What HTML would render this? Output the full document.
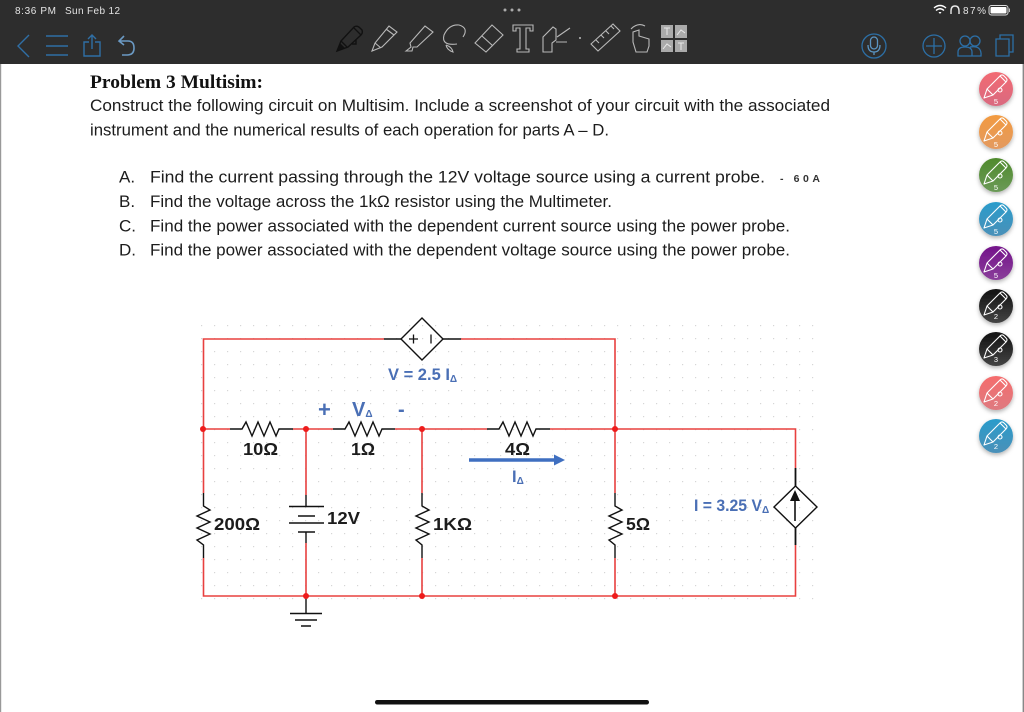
<!DOCTYPE html>
<html><head><meta charset="utf-8"><style>
html,body{margin:0;padding:0;background:#fff}
svg{display:block}
.t{font-family:"Liberation Sans",sans-serif;font-size:17px;fill:#1c1c1c}
.b{font-family:"Liberation Sans",sans-serif;font-weight:bold;fill:#1c1c1c;font-size:17.500px}
.l{font-family:"Liberation Sans",sans-serif;font-weight:bold;fill:#4a6fb5;font-size:16.500px}
.s{font-size:10px}
.n{font-family:"Liberation Sans",sans-serif;font-size:7.500px;fill:#fff;text-anchor:middle}
</style></head><body>
<svg width="1024" height="712" viewBox="0 0 1024 712" xmlns="http://www.w3.org/2000/svg">
<defs>
<pattern id="d" width="13" height="13" patternUnits="userSpaceOnUse" x="201" y="325"><rect x="0" y="0" width="1.2" height="1.2" fill="#d6d6d6"/></pattern>
<g id="pen" fill="none" stroke="#fff" stroke-width="1.1" stroke-linejoin="round"><path d="M-12 11 L-9 2 L4 -11 Q6 -13 8 -11 L10 -9 Q12 -7 10 -5 L-3 8 Z"/><path d="M-9 2 L-3 8 M4 -11 L10 -5"/><circle cx="4" cy="3" r="2"/></g>
<filter id="sh" x="-30%" y="-30%" width="160%" height="170%"><feDropShadow dx="0" dy="2" stdDeviation="2" flood-color="#000" flood-opacity=".3"/></filter>
<linearGradient id="g1" x1="0" y1="0" x2="0" y2="1"><stop offset="0" stop-color="#f26a72"/><stop offset="1" stop-color="#d96b80"/></linearGradient>
<linearGradient id="g2" x1="0" y1="0" x2="0" y2="1"><stop offset="0" stop-color="#f29a40"/><stop offset="1" stop-color="#e39a60"/></linearGradient>
<linearGradient id="g3" x1="0" y1="0" x2="0" y2="1"><stop offset="0" stop-color="#4f8a2c"/><stop offset="1" stop-color="#6b9a58"/></linearGradient>
<linearGradient id="g4" x1="0" y1="0" x2="0" y2="1"><stop offset="0" stop-color="#2a9ccb"/><stop offset="1" stop-color="#4a90b8"/></linearGradient>
<linearGradient id="g5" x1="0" y1="0" x2="0" y2="1"><stop offset="0" stop-color="#73128a"/><stop offset="1" stop-color="#8a3f9a"/></linearGradient>
<linearGradient id="g6" x1="0" y1="0" x2="0" y2="1"><stop offset="0" stop-color="#111"/><stop offset="1" stop-color="#444"/></linearGradient>
<linearGradient id="g7" x1="0" y1="0" x2="0" y2="1"><stop offset="0" stop-color="#f56c6c"/><stop offset="1" stop-color="#de7a80"/></linearGradient>
</defs>

<!-- page edges -->
<rect x="0" y="64" width="1.2" height="648" fill="#999"/>
<rect x="1022.6" y="64" width="1.4" height="648" fill="#888"/>

<!-- top bar -->
<rect width="1024" height="64" fill="#2d2d2d"/>
<text x="15" y="14" font-family="Liberation Sans,sans-serif" font-size="10" fill="#e4e4e4" textLength="41" lengthAdjust="spacing">8:36 PM</text>
<text x="65" y="14" font-family="Liberation Sans,sans-serif" font-size="10" fill="#e4e4e4" textLength="55" lengthAdjust="spacing">Sun Feb 12</text>
<g fill="#aaa"><circle cx="505" cy="10" r="1.5"/><circle cx="512" cy="10" r="1.5"/><circle cx="519" cy="10" r="1.5"/></g>

<g fill="none" stroke="#2f6fa5" stroke-width="1.4">
<path d="M29 35 L18 46 L29 57"/>
<path d="M46 36H68M46 46H68M46 55H68"/>
<path d="M89 42H84V56H100V42H95M92 49V35M88 39L92 35L96 39"/>
</g>
<path d="M124 36 L119 41 L124 45 M119 41H128Q134 41 134 48Q134 55 127 55H122" fill="none" stroke="#6b9ac4" stroke-width="1.6"/>

<!-- tools -->
<g fill="none" stroke="#111" stroke-width="1.4"><path d="M337 51 L341 41 L354 27 Q357 25 360 28 L362 30 Q363 33 361 35 L348 47 Z" /><path d="M341 41L347 47M354 28L361 35M356 40 V44 H352"/></g>
<path d="M337 51 L340 43 L345 48Z" fill="#111"/>
<g fill="none" stroke="#b8b8b8" stroke-width="1.1">
<path d="M372 51 L375 43 L389 26 L397 32 L382 47 Z M375 43 L381 48 M386 29 L394 35"/>
<path d="M406 51 L411 47 L410 43 L425 26 L433 32 L417 47 L413 47 L412 51 Z"/>
<path d="M457 44 Q441 46 444 35 Q449 24 459 25 Q469 28 463 37"/><path d="M446 45 Q452 47 453 52 Q447 50 446 45"/>
<path d="M475 43 L492 25 L503 35 L486 52 Z M482 36 L493 46"/>
<path d="M513 25H533V31H530V28H526V49H529V52H517V49H520V28H516V31H513Z"/>
<path d="M543 52V37L553 27L556 29V40L552 43V52Z M557 37L570 28M556 42L567 42"/>
<path d="M591 44 L613 24 L620 31 L598 51 Z M596 40L599 43M601 35L604 38M606 31L609 34M611 26L614 29"/>
<path d="M631 29Q638 22 645 26 M633 32V42L636 52H647L649 46V39L639 36V30Z"/>
</g>
<circle cx="580" cy="38" r="1" fill="#bbb"/>
<g fill="#aaa"><rect x="661" y="25" width="12" height="13"/><rect x="675" y="25" width="12" height="13"/><rect x="661" y="40" width="12" height="12"/><rect x="675" y="40" width="12" height="12"/></g>
<g fill="none" stroke="#e8e8e8" stroke-width="1"><path d="M664 28H670M667 28V35M678 43H684M681 43V50M677 35L681 30L685 33M663 49L667 44L671 47"/></g>

<!-- right icons -->
<g fill="none" stroke="#2c6fa6" stroke-width="1.3">
<circle cx="874" cy="46" r="12"/>
<rect x="870.5" y="37" width="7" height="12" rx="3.5" stroke="#5a94c2"/><path d="M868 45Q868 52 874 52Q880 52 880 45M874 52V55" stroke="#5a94c2"/>
<circle cx="934" cy="46" r="11"/><path d="M926 46H942M934 38V54"/>
<circle cx="965" cy="41" r="5"/><circle cx="975" cy="41" r="5"/><path d="M958 56V52Q958 47 965 47Q972 47 972 52V56ZM970 47Q982 45 981 56H972"/>
<path d="M996 39H1009V56H996ZM1000 39V35H1013V52H1009"/>
</g>

<!-- status right -->
<path d="M934 8Q940 3 946 8M936 10.5Q940 7 944 10.5" fill="none" stroke="#fff" stroke-width="1.4"/><path d="M938.5 12L940 14L941.5 12Z" fill="#fff"/>
<path d="M951 14V11Q951 6 955 6Q959 6 959 11V14" fill="none" stroke="#e8e8e8" stroke-width="1.4"/>
<text x="963" y="14" font-family="Liberation Sans,sans-serif" font-size="10" fill="#e4e4e4" textLength="23" lengthAdjust="spacing">87%</text>
<rect x="989" y="5.5" width="19" height="9.5" rx="2.5" fill="none" stroke="#ddd"/><rect x="990.5" y="7" width="16" height="6.5" rx="1" fill="#fff"/><rect x="1009" y="8.5" width="1" height="3.5" fill="#bbb"/>

<!-- text -->
<text x="90" y="88" font-family="Liberation Serif,serif" font-weight="bold" font-size="19" fill="#111" textLength="173" lengthAdjust="spacingAndGlyphs">Problem 3 Multisim:</text>
<text class="t" x="90" y="111" textLength="740" lengthAdjust="spacingAndGlyphs">Construct the following circuit on Multisim. Include a screenshot of your circuit with the associated</text>
<text class="t" x="90" y="135.500" textLength="519" lengthAdjust="spacingAndGlyphs">instrument and the numerical results of each operation for parts A – D.</text>
<text class="t" x="119" y="182.500">A.</text>
<text class="t" x="150" y="182.500" textLength="615" lengthAdjust="spacingAndGlyphs">Find the current passing through the 12V voltage source using a current probe.</text>
<text class="t" x="119" y="207">B.</text>
<text class="t" x="150" y="207" textLength="462" lengthAdjust="spacingAndGlyphs">Find the voltage across the 1kΩ resistor using the Multimeter.</text>
<text class="t" x="119" y="231.500">C.</text>
<text class="t" x="150" y="231.500" textLength="640" lengthAdjust="spacingAndGlyphs">Find the power associated with the dependent current source using the power probe.</text>
<text class="t" x="119" y="255.500">D.</text>
<text class="t" x="150" y="255.500" textLength="640" lengthAdjust="spacingAndGlyphs">Find the power associated with the dependent voltage source using the power probe.</text>
<text x="780" y="182" font-family="Liberation Sans,sans-serif" font-size="10.500" font-weight="bold" fill="#333" textLength="40" lengthAdjust="spacing">- 60A</text>

<!-- dotted grid -->
<rect x="200" y="324" width="625" height="276" fill="url(#d)"/>

<!-- red wires -->
<g fill="none" stroke="#e8403f" stroke-width="1.6">
<path d="M384 339H203.500V493M203.500 558V596H795.500V545M795.500 468V429H615M461 339H615V493M615 558V596"/>
<path d="M203.500 429H230M293 429H333M395 429H487M550 429H615"/>
<path d="M306 429V495M306 543V596M422 429V493M422 558V596"/>
</g>

<!-- black parts -->
<g fill="none" stroke="#111" stroke-width="1.4">
<path d="M230 429H242L246 422L252 436L258 422L264 436L270 422L276 436L279 429H293"/>
<path d="M333 429H345L349 422L355 436L361 422L367 436L373 422L379 436L382 429H395"/>
<path d="M487 429H499L503 422L509 436L515 422L521 436L527 422L533 436L536 429H550"/>
<path d="M203.500 493V506L210 510L197 516L210 522L197 528L210 534L197 540L203.500 545V558"/>
<path d="M422 493V506L429 510L416 516L429 522L416 528L429 534L416 540L422 545V558"/>
<path d="M615 493V506L622 510L609 516L622 522L609 528L622 534L609 540L615 545V558"/>
<path d="M306 495V506M289 506.500H324M298 516H315M289 523H324M298 532H315M306 532V543"/>
<path d="M306 596V613M290 613.500H322M295 620H317M301 626H311"/>
<path d="M384 339H401M443 339H461"/>
<path d="M422 318L443 339L422 360L401 339Z"/>
<path d="M409 339H418M413.500 334.500V343.500M431 334.500V343.500" stroke-width="1.3"/>
<path d="M795.500 468V486M795.500 528V545" stroke-width="1.8"/>
<path d="M795.500 486L817 507L795.500 528L774 507Z"/>
<path d="M795 498V521" stroke-width="1.6"/>
</g>
<path d="M790 501L795 490L800 501Z" fill="#111"/>

<!-- nodes -->
<g fill="#ee1c1c"><circle cx="203" cy="429" r="3"/><circle cx="306" cy="429" r="3"/><circle cx="422" cy="429" r="3"/><circle cx="615" cy="429" r="3"/><circle cx="306" cy="596" r="3"/><circle cx="422" cy="596" r="3"/><circle cx="615" cy="596" r="3"/></g>

<!-- labels -->
<text class="b" x="243" y="455" textLength="35" lengthAdjust="spacingAndGlyphs">10Ω</text>
<text class="b" x="351" y="455" textLength="24" lengthAdjust="spacingAndGlyphs">1Ω</text>
<text class="b" x="505" y="455" textLength="25" lengthAdjust="spacingAndGlyphs">4Ω</text>
<text class="b" x="214" y="530" textLength="46" lengthAdjust="spacingAndGlyphs">200Ω</text>
<text class="b" x="327" y="524" textLength="33" lengthAdjust="spacingAndGlyphs">12V</text>
<text class="b" x="433" y="530" textLength="39" lengthAdjust="spacingAndGlyphs">1KΩ</text>
<text class="b" x="626" y="530" textLength="24" lengthAdjust="spacingAndGlyphs">5Ω</text>
<text class="l" x="388" y="380">V = 2.5 I<tspan class="s" dy="2">Δ</tspan></text>
<text class="l" x="318" y="417" style="font-size:22px">+</text>
<text class="l" x="352" y="416" style="font-size:20px">V<tspan class="s" dy="1">Δ</tspan></text>
<text class="l" x="398" y="416" style="font-size:20px">-</text>
<text class="l" x="512" y="482">I<tspan class="s" dy="2">Δ</tspan></text>
<text class="l" x="694" y="511" textLength="68" lengthAdjust="spacingAndGlyphs">I = 3.25 V</text>
<text class="l s" x="762" y="513">Δ</text>
<path d="M469 460H555" stroke="#3f6fc0" stroke-width="3.5"/>
<path d="M554 454.500L565 460L554 465.500Z" fill="#3f6fc0"/>

<!-- side pens -->
<g filter="url(#sh)"><circle cx="996" cy="89" r="17" fill="url(#g1)"/></g><use href="#pen" x="996" y="87"/><text class="n" x="996" y="104">5</text>
<g filter="url(#sh)"><circle cx="996" cy="132" r="17" fill="url(#g2)"/></g><use href="#pen" x="996" y="130"/><text class="n" x="996" y="147">5</text>
<g filter="url(#sh)"><circle cx="996" cy="175" r="17" fill="url(#g3)"/></g><use href="#pen" x="996" y="173"/><text class="n" x="996" y="190">5</text>
<g filter="url(#sh)"><circle cx="996" cy="219" r="17" fill="url(#g4)"/></g><use href="#pen" x="996" y="217"/><text class="n" x="996" y="234">5</text>
<g filter="url(#sh)"><circle cx="996" cy="263" r="17" fill="url(#g5)"/></g><use href="#pen" x="996" y="261"/><text class="n" x="996" y="278">5</text>
<g filter="url(#sh)"><circle cx="996" cy="306" r="17" fill="url(#g6)"/></g><use href="#pen" x="996" y="304"/><text class="n" x="996" y="319">2</text>
<g filter="url(#sh)"><circle cx="996" cy="349" r="17" fill="url(#g6)"/></g><use href="#pen" x="996" y="347"/><text class="n" x="996" y="362">3</text>
<g filter="url(#sh)"><circle cx="996" cy="393" r="17" fill="url(#g7)"/></g><use href="#pen" x="996" y="391"/><text class="n" x="996" y="406">2</text>
<g filter="url(#sh)"><circle cx="996" cy="436" r="17" fill="url(#g4)"/></g><use href="#pen" x="996" y="434"/><text class="n" x="996" y="449">2</text>

<!-- home bar -->
<rect x="375" y="700" width="274" height="4.500" rx="2.200" fill="#111"/>
</svg>
</body></html>
